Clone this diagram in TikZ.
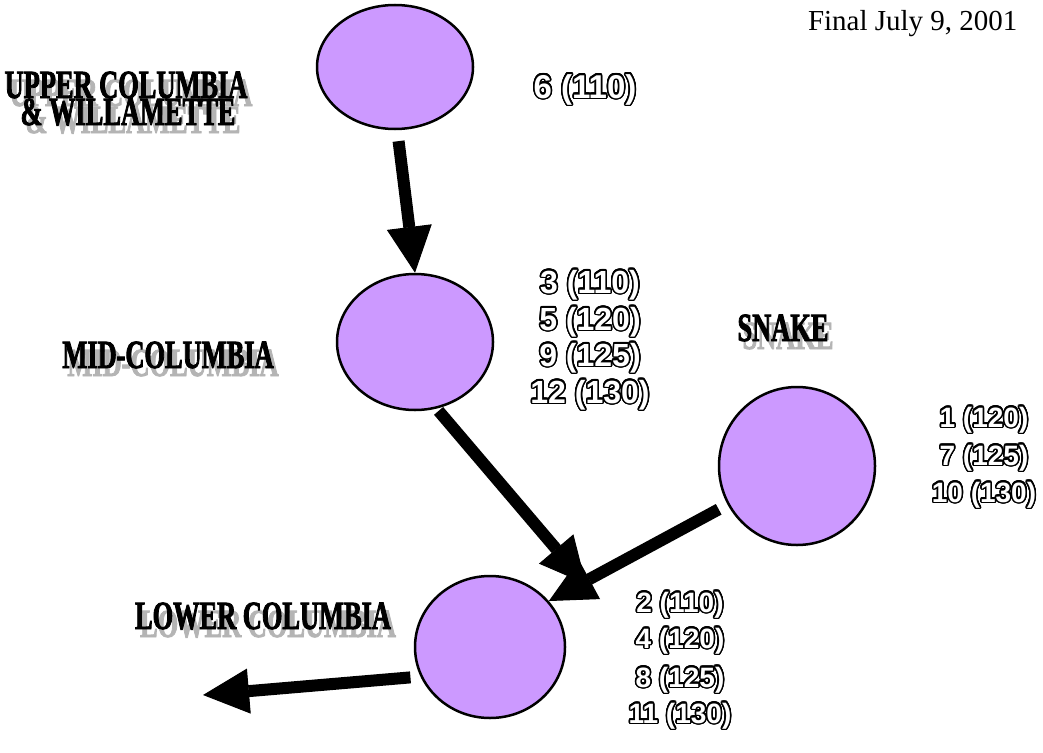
\documentclass[tikz,border=0pt]{standalone}
\usepackage{fontspec}
\usepackage[copies]{contour}
\usetikzlibrary{arrows.meta,shapes.geometric}
\setmainfont{Liberation Serif}
\newfontfamily\numfont{Liberation Sans}
\newfontfamily\labfont[FakeStretch=0.66,FakeBold=2]{Liberation Serif}
\definecolor{lav}{HTML}{CC99FF}
\definecolor{shade}{HTML}{B4B4B4}
\contourlength{1.5pt}
\contournumber{24}
\newcommand\outl[1]{\contour{black}{#1}}
\newcommand\shd[1]{\makebox[0pt][l]{\hspace{5pt}\raisebox{-8pt}{\textcolor{shade}{#1}}}#1}
\tikzset{
  basin/.style={ellipse, draw=black, line width=2.5pt, fill=lav, inner sep=0pt},
  flow/.style={line width=12pt, -{Triangle[length=46pt,width=45pt,line width=1pt]}},
  numtxt/.style={anchor=base, text=white, font=\numfont\bfseries\fontsize{#1}{#1}\selectfont},
  labtxt/.style={anchor=base, font=\labfont\bfseries\fontsize{40}{40}\selectfont},
}
\begin{document}
\begin{tikzpicture}[x=1pt,y=-1pt]
\useasboundingbox (0,0) rectangle (1043,752);
% basins
\node[basin, minimum width=156pt, minimum height=124pt] (up) at (395,67) {};
\node[basin, minimum width=156pt, minimum height=136pt] (mid) at (415,342) {};
\node[basin, minimum width=156pt, minimum height=158pt] (snake) at (797,466) {};
\node[basin, minimum width=150pt, minimum height=142pt] (low) at (490,647) {};
% free ends
\coordinate (t2) at (586,584);
\coordinate (t4) at (203,695);
% flows
\draw[flow, shorten <=11pt] (up.-88) -- (mid.north);
\draw[flow, shorten <=3pt] (mid.-72) -- (t2);
\draw[flow, shorten <=10pt] (snake.209) -- (low.38);
\draw[flow, shorten <=10pt] (low.203) -- (t4);
% labels
\node[labtxt] (lu1) at (126,98) {\shd{UPPER COLUMBIA}};
\node[labtxt] (lu2) at (128,125) {\shd{\& WILLAMETTE}};
\node[labtxt] (lm) at (168,368) {\shd{MID-COLUMBIA}};
\node[labtxt] (ls) at (783,341) {\shd{SNAKE}};
\node[labtxt] (ll) at (263,629) {\shd{LOWER COLUMBIA}};
% numbers
\node[numtxt=33] (n6) at (585,98) {\outl{6 (110)}};
\node[numtxt=32] (m1) at (590,293) {\outl{3 (110)}};
\node[numtxt=32] (m2) at (590,330) {\outl{5 (120)}};
\node[numtxt=32] (m3) at (590,366) {\outl{9 (125)}};
\node[numtxt=32] (m4) at (590,403) {\outl{12 (130)}};
\node[numtxt=28] (s1) at (984,427) {\outl{1 (120)}};
\node[numtxt=28] (s2) at (984,465) {\outl{7 (125)}};
\node[numtxt=28] (s3) at (984,502) {\outl{10 (130)}};
\node[numtxt=28] (w1) at (680,612) {\outl{2 (110)}};
\node[numtxt=28] (w2) at (680,648) {\outl{4 (120)}};
\node[numtxt=28] (w3) at (680,687) {\outl{8 (125)}};
\node[numtxt=28] (w4) at (680,723) {\outl{11 (130)}};
% date
\node[anchor=base east, font=\fontsize{29}{29}\selectfont] (date) at (1021,31) {Final July 9, 2001};
\end{tikzpicture}
\end{document}
